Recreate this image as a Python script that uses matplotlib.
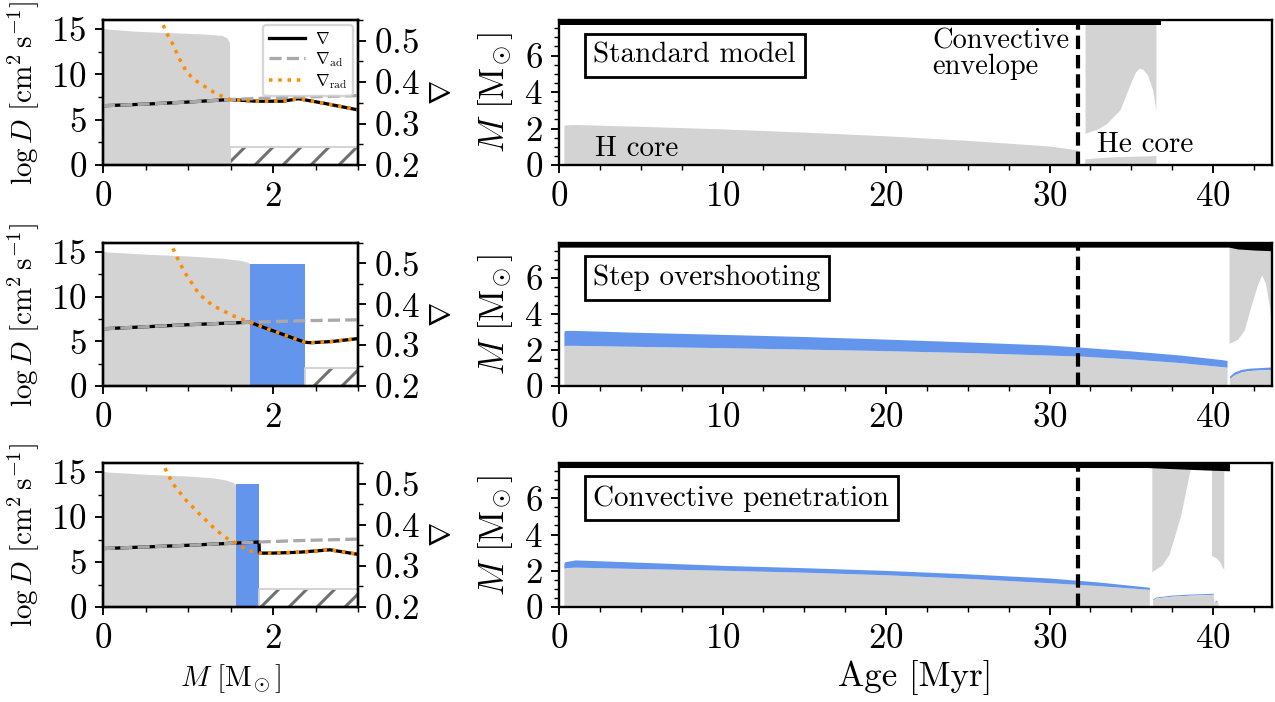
import matplotlib
matplotlib.use("Agg")
import matplotlib.pyplot as plt
from matplotlib.ticker import MultipleLocator

plt.rcParams.update({
    "font.family": "serif",
    "font.serif": ["cmr10"],
    "mathtext.fontset": "cm",
    "axes.formatter.use_mathtext": True,
    "axes.linewidth": 1.0,
    "hatch.linewidth": 1.3,
    "xtick.labelsize": 15,
    "ytick.labelsize": 15,
})

GREY = "#d3d3d3"
BLUE = "#6495ed"
ORANGE = "#ff8c00"
ADGREY = "#a9a9a9"
HATCH = "#707070"

# ---------------- Profiles at one age: log D and temperature gradients vs mass ----------------
# Standard model
std_m_mix = [0.0, 0.05, 0.4, 0.8, 1.2, 1.40, 1.46, 1.488]
std_logd_mix = [15.1, 15.0, 14.75, 14.6, 14.45, 14.3, 14.0, 13.5]
std_m_ov = []
std_logd_ov = []
std_env_m = [1.49, 3.0]
std_logd_env = 2.0
std_m_ad = [0.0, 0.5, 1.0, 1.49, 2.0, 2.5, 3.0]
std_nabla_ad = [0.343, 0.347, 0.352, 0.358, 0.362, 0.365, 0.3675]
std_m_nabla = [0.0, 0.5, 1.0, 1.49, 1.8, 2.12, 2.3, 2.6, 3.0]
std_nabla = [0.343, 0.347, 0.352, 0.358, 0.354, 0.354, 0.360, 0.349, 0.333]
std_m_rad = [0.64, 0.68, 0.75, 0.82, 0.9, 0.975, 1.05, 1.13, 1.21, 1.3, 1.4, 1.49,
             1.8, 2.12, 2.3, 2.6, 3.0]
std_nabla_rad = [0.58, 0.551, 0.518, 0.492, 0.456, 0.428, 0.41, 0.398, 0.388, 0.376, 0.366, 0.358,
                 0.354, 0.354, 0.360, 0.349, 0.333]

# Step overshooting
ovs_m_mix = [0.0, 0.05, 0.5, 1.0, 1.4, 1.62, 1.7, 1.725]
ovs_logd_mix = [15.1, 15.0, 14.75, 14.55, 14.3, 14.05, 13.85, 13.7]
ovs_m_ov = [1.725, 2.376]
ovs_logd_ov = [13.7, 13.7]
ovs_env_m = [2.376, 3.0]
ovs_logd_env = 2.0
ovs_m_ad = [0.0, 0.5, 1.0, 1.725, 2.4, 3.0]
ovs_nabla_ad = [0.340, 0.345, 0.350, 0.356, 0.360, 0.362]
ovs_m_nabla = [0.0, 0.5, 1.0, 1.725, 2.0, 2.2, 2.376, 2.45, 2.7, 3.0]
ovs_nabla = [0.340, 0.345, 0.350, 0.356, 0.335, 0.320, 0.307, 0.306, 0.309, 0.316]
ovs_m_rad = [0.76, 0.8, 0.9, 0.975, 1.13, 1.29, 1.53, 1.725, 2.0, 2.2, 2.376, 2.45, 2.7, 3.0]
ovs_nabla_rad = [0.58, 0.547, 0.502, 0.474, 0.425, 0.397, 0.372, 0.356, 0.335, 0.320, 0.307,
                 0.306, 0.309, 0.316]

# Convective penetration
pen_m_mix = [0.0, 0.05, 0.5, 1.0, 1.3, 1.45, 1.53, 1.56]
pen_logd_mix = [15.1, 15.0, 14.75, 14.55, 14.35, 14.1, 13.85, 13.6]
pen_m_ov = [1.56, 1.835]
pen_logd_ov = [13.7, 13.7]
pen_env_m = [1.835, 3.0]
pen_logd_env = 1.95
pen_m_ad = [0.0, 0.5, 1.0, 1.835, 2.4, 3.0]
pen_nabla_ad = [0.342, 0.346, 0.350, 0.358, 0.362, 0.365]
pen_m_nabla = [0.0, 0.5, 1.0, 1.835, 1.84, 2.0, 2.3, 2.67, 3.0]
pen_nabla = [0.342, 0.346, 0.350, 0.358, 0.331, 0.331, 0.333, 0.339, 0.328]
pen_m_rad = [0.66, 0.70, 0.82, 0.975, 1.13, 1.33, 1.49, 1.56, 1.70, 1.835, 2.0, 2.3, 2.67, 3.0]
pen_nabla_rad = [0.58, 0.549, 0.50, 0.46, 0.427, 0.387, 0.362, 0.356, 0.338, 0.331, 0.331,
                 0.333, 0.339, 0.328]

# ---------------- Kippenhahn diagrams: mass coordinate vs age ----------------
m_star = 7.95
t_tams = 31.75

# Standard model
std_age_h = [0.3, 0.35, 1.0, 5.0, 10.0, 15.0, 20.0, 25.0, 30.0, 31.75]
std_mcc = [2.15, 2.2, 2.22, 2.12, 1.98, 1.8, 1.6, 1.35, 1.04, 0.82]
std_mov = std_mcc
std_age_he = [32.15, 33.0, 34.0, 35.0, 36.0, 36.5]
std_mhe = [0.33, 0.40, 0.45, 0.48, 0.50, 0.52]
std_mhe_ov = std_mhe
std_age_env = [32.17, 33.0, 33.5, 34.3, 34.95, 35.25, 35.47, 35.7, 35.98, 36.3, 36.5]
std_menv = [1.74, 2.0, 2.29, 3.02, 4.49, 5.1, 5.31, 5.25, 4.95, 4.12, 3.02]
std_age_surf = [0.0, 36.8]
std_msurf = [7.68, 7.68]

# Step overshooting
ovs_age_h = [0.3, 0.35, 1.0, 5.0, 10.0, 15.0, 19.2, 25.0, 29.9, 31.75, 35.0, 38.0, 40.5, 40.85]
ovs_mcc = [2.2, 2.26, 2.26, 2.2, 2.13, 2.05, 1.98, 1.86, 1.72, 1.67, 1.5, 1.3, 1.08, 1.05]
ovs_mov = [3.0, 3.09, 3.09, 2.98, 2.87, 2.75, 2.63, 2.45, 2.28, 2.17, 1.95, 1.72, 1.47, 1.42]
ovs_age_he = [41.0, 41.3, 41.7, 42.2, 43.0, 43.6]
ovs_mhe = [0.42, 0.62, 0.78, 0.86, 0.90, 0.92]
ovs_mhe_ov = [0.55, 0.78, 0.92, 0.99, 1.03, 1.06]
ovs_age_env = [40.97, 41.5, 41.9, 42.3, 42.7, 42.97, 43.2, 43.45, 43.6]
ovs_menv = [2.37, 2.6, 3.1, 4.4, 5.6, 6.17, 5.7, 4.4, 3.0]
ovs_age_surf = [0.0, 40.97, 41.5, 42.5, 43.6]
ovs_msurf = [7.72, 7.72, 7.62, 7.56, 7.52]

# Convective penetration
pen_age_h = [0.3, 0.35, 1.0, 5.0, 10.0, 15.0, 20.0, 25.0, 30.0, 33.0, 36.0, 36.1]
pen_mcc = [2.1, 2.17, 2.2, 2.12, 2.03, 1.92, 1.78, 1.58, 1.34, 1.18, 0.98, 0.95]
pen_mov = [2.4, 2.5, 2.6, 2.47, 2.3, 2.17, 2.02, 1.83, 1.6, 1.38, 1.1, 1.08]
pen_age_he = [36.3, 36.5, 37.5, 38.5, 39.5, 40.0, 40.05, 40.15, 40.25, 40.35]
pen_mhe = [0.40, 0.50, 0.60, 0.65, 0.68, 0.70, 0.15, 0.32, 0.28, 0.0]
pen_mhe_ov = [0.45, 0.55, 0.66, 0.71, 0.74, 0.76, 0.2, 0.38, 0.33, 0.0]
pen_age_env = [36.25, 36.5, 36.85, 37.3, 37.7, 38.0, 38.3, 38.5, 38.62]
pen_menv = [1.95, 2.1, 2.3, 2.9, 4.1, 5.0, 6.3, 7.2, 7.7]
pen_age_env2 = [39.9, 40.0, 40.2, 40.4, 40.55, 40.65]
pen_menv2 = [2.85, 2.8, 2.7, 2.5, 2.2, 2.1]
pen_age_surf = [0.0, 36.0, 38.0, 40.0, 41.0]
pen_msurf = [7.7, 7.7, 7.62, 7.55, 7.52]

model_names = ["Standard model", "Step overshooting", "Convective penetration"]

DPI = 168
fig = plt.figure(figsize=(1275 / DPI, 702 / DPI), dpi=DPI)

rows_px = [(20, 165), (243, 386), (463, 607)]
W, H = 1275.0, 702.0


def rect(x0, x1, top, bot):
    return [x0 / W, 1 - bot / H, (x1 - x0) / W, (bot - top) / H]


profiles = [
    (std_m_mix, std_logd_mix, std_m_ov, std_logd_ov, std_env_m, std_logd_env,
     std_m_ad, std_nabla_ad, std_m_nabla, std_nabla, std_m_rad, std_nabla_rad),
    (ovs_m_mix, ovs_logd_mix, ovs_m_ov, ovs_logd_ov, ovs_env_m, ovs_logd_env,
     ovs_m_ad, ovs_nabla_ad, ovs_m_nabla, ovs_nabla, ovs_m_rad, ovs_nabla_rad),
    (pen_m_mix, pen_logd_mix, pen_m_ov, pen_logd_ov, pen_env_m, pen_logd_env,
     pen_m_ad, pen_nabla_ad, pen_m_nabla, pen_nabla, pen_m_rad, pen_nabla_rad),
]

kipps = [
    (std_age_h, std_mcc, std_mov, std_age_he, std_mhe, std_mhe_ov,
     [(std_age_env, std_menv)], std_age_surf, std_msurf),
    (ovs_age_h, ovs_mcc, ovs_mov, ovs_age_he, ovs_mhe, ovs_mhe_ov,
     [(ovs_age_env, ovs_menv)], ovs_age_surf, ovs_msurf),
    (pen_age_h, pen_mcc, pen_mov, pen_age_he, pen_mhe, pen_mhe_ov,
     [(pen_age_env, pen_menv), (pen_age_env2, pen_menv2)], pen_age_surf, pen_msurf),
]

msun_label = r"$M\ [\mathrm{M}_{\!\odot}]$"

for i, (top, bot) in enumerate(rows_px):
    (m_mix, logd_mix, m_ov, logd_ov, env_m, logd_env,
     m_ad, nab_ad, m_nab, nab, m_rad, nab_rad) = profiles[i]

    # ---- left: mixing profile ----
    ax = fig.add_axes(rect(103, 358, top, bot))
    ax.fill_between(m_mix, 0, logd_mix, color=GREY, linewidth=0)
    if m_ov:
        ax.fill_between(m_ov, 0, logd_ov, color=BLUE, linewidth=0)
    ax.fill_between(env_m, 0, logd_env, facecolor="white", edgecolor=HATCH,
                    hatch="//", linewidth=0)
    ax.fill_between(env_m, 0, logd_env, facecolor="none", edgecolor=GREY,
                    linewidth=0.8)
    ax.set_xlim(0, 3)
    ax.set_ylim(0, 16)
    ax.xaxis.set_major_locator(MultipleLocator(2))
    ax.xaxis.set_minor_locator(MultipleLocator(0.5))
    ax.yaxis.set_major_locator(MultipleLocator(5))
    ax.yaxis.set_minor_locator(MultipleLocator(2.5))
    ax.set_ylabel(r"$\log D\ [\mathrm{cm^2\,s^{-1}}]$", fontsize=12.5, labelpad=4)
    if i == 2:
        ax.set_xlabel(msun_label, fontsize=12.5, labelpad=3)

    ax2 = ax.twinx()
    ax2.plot(m_nab, nab, color="black", lw=1.4, label=r"$\nabla$")
    ax2.plot(m_ad, nab_ad, color=ADGREY, lw=1.4, ls="--", label=r"$\nabla_{\rm ad}$")
    ax2.plot(m_rad, nab_rad, color=ORANGE, lw=1.5, ls=":", label=r"$\nabla_{\rm rad}$")
    ax2.set_ylim(0.2, 0.55)
    ax2.set_xlim(0, 3)
    ax2.yaxis.set_major_locator(MultipleLocator(0.1))
    ax2.yaxis.set_minor_locator(MultipleLocator(0.05))
    ax2.set_ylabel(r"$\nabla$", fontsize=12.5, labelpad=4)
    if i == 0:
        ax2.legend(loc="upper right", fontsize=7, handlelength=2.2,
                   handletextpad=0.6, borderpad=0.35, borderaxespad=0.3,
                   labelspacing=0.2)

    # ---- right: Kippenhahn diagram ----
    (age_h, mcc, mov, age_he, mhe, mhe_ov, envs, age_surf, msurf) = kipps[i]
    kx = fig.add_axes(rect(559, 1272, top, bot))
    kx.fill_between(age_h, 0, mcc, color=GREY, linewidth=0)
    if mov is not mcc:
        kx.fill_between(age_h, mcc, mov, color=BLUE, linewidth=0)
    if mhe_ov is not mhe:
        kx.fill_between(age_he, mhe, mhe_ov, color=BLUE, linewidth=0)
    kx.fill_between(age_he, 0, mhe, color=GREY, linewidth=0)
    for age_env, menv in envs:
        kx.fill_between(age_env, menv, m_star, color=GREY, linewidth=0)
    kx.fill_between(age_surf, msurf, m_star, color="black", linewidth=0)
    kx.axvline(t_tams, color="black", lw=1.8, ls=(0, (3.2, 1.4)))
    kx.set_xlim(0, 43.6)
    kx.set_ylim(0, m_star)
    kx.xaxis.set_major_locator(MultipleLocator(10))
    kx.xaxis.set_minor_locator(MultipleLocator(2.5))
    kx.yaxis.set_major_locator(MultipleLocator(2))
    kx.yaxis.set_minor_locator(MultipleLocator(0.5))
    kx.set_ylabel(msun_label, fontsize=15, labelpad=4)
    kx.text(2.1, 6.0, model_names[i], fontsize=12.5, ha="left", va="center",
            bbox=dict(boxstyle="square,pad=0.3", fc="white", ec="black", lw=1.2))
    if i == 0:
        kx.text(2.2, 0.9, "H core", fontsize=12.5, ha="left", va="center")
        kx.text(22.85, 6.1, "Convective\nenvelope", fontsize=12.2, ha="left",
                va="center", linespacing=0.95)
        kx.text(32.9, 1.1, "He core", fontsize=12.5, ha="left", va="center")
    if i == 2:
        kx.set_xlabel("Age [Myr]", fontsize=15, labelpad=2)

fig.savefig("out.png", dpi=DPI)
